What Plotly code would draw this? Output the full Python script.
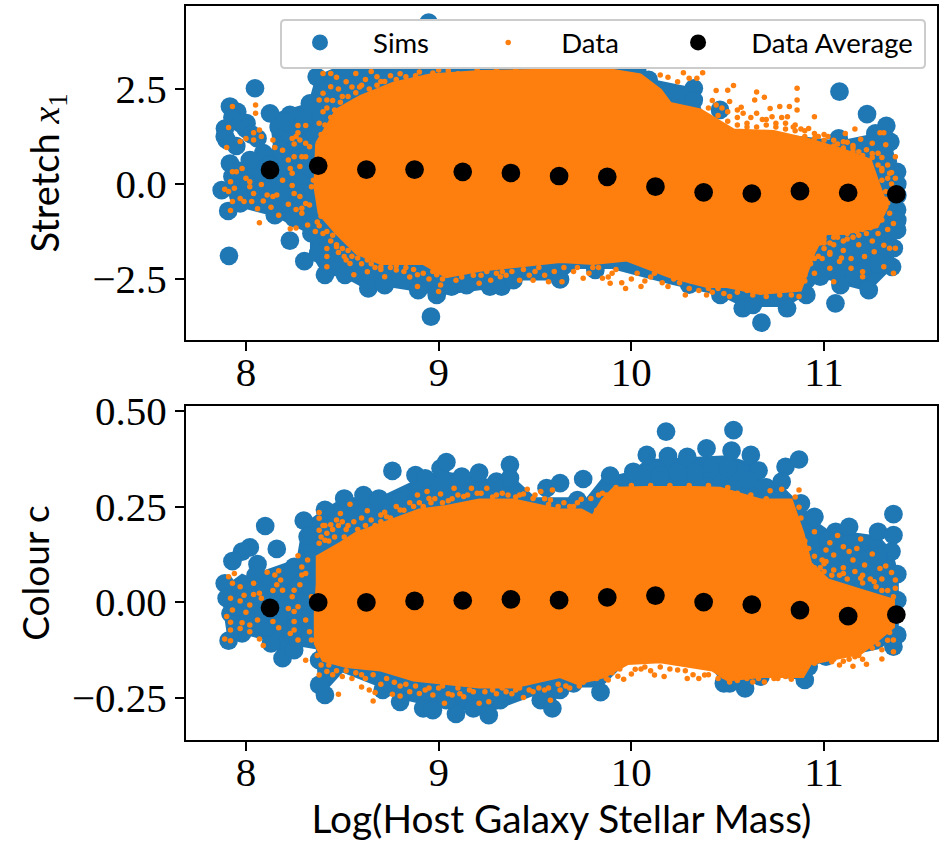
import plotly.graph_objects as go

# ---------- shared
avg_x = [8.125, 8.375, 8.625, 8.875, 9.125, 9.375, 9.625, 9.875, 10.125, 10.375, 10.625, 10.875, 11.125, 11.375]
x_ticks = [8, 9, 10, 11]
x_label = "Log(Host Galaxy Stellar Mass)"

# ---------- upper panel: stretch
stretch_avg = [.37, .48, .38, .38, .32, .29, .21, .19, -.07, -.22, -.25, -.19, -.23, -.27]
stretch_ticks = [-2.5, 0, 2.5]

sims_x1_x = [8.047, 7.917, 7.955, 7.891, 8.003, 7.90, 7.917, 7.874, 7.908, 7.912, 8.125, 8.228, 8.332, 8.367,
             8.09, 8.02, 7.97, 8.15, 8.09, 8.00, 8.228, 8.303, 8.34, 8.375, 8.41, 8.514, 8.635, 8.72, 8.894, 8.99,
             8.96, 9.067, 9.145, 9.266, 9.327, 9.388, 9.63, 8.948, 8.18, 8.27, 8.18, 8.27, 8.33, 8.33, 8.23, 8.05, 8.12,
             7.95, 8.25, 7.96, 8.06, 8.30, 8.5, 8.7, 8.95, 9.15, 9.3, 9.5, 9.7, 9.81, 10.03, 10.09,
             7.93, 7.97, 8.0, 8.03, 7.89, 7.93, 7.96, 8.17, 8.22, 8.3, 8.2,
             11.08, 11.223, 11.323, 11.344, 11.266, 11.076, 11.379, 11.379, 11.379, 11.362, 11.353, 11.232, 11.059, 11.085,
             10.98, 10.908, 10.808, 10.675, 10.578, 10.631, 10.462, 10.324, 10.324, 10.46, 9.813, 11.28, 11.28, 11.2, 11.11, 11.28, 11.16, 11.02, 11.2,
             10.3, 10.5, 8.6, 9.0, 10.75, 11.38, 11.38, 11.38, 11.3, 11.33]
sims_x1_y = [2.52, 2.04, 1.90, 1.46, 1.60, 1.16, .54, -.16, -.71, -1.89, 1.86, 1.82, 2.12, 2.82,
             .81, .63, -.51, -.82, -.42, .02, -1.49, -2.03, -1.30, -1.82, -2.39, -2.39, -2.75, -2.66, -2.79, -2.92,
             -3.49, -2.70, -2.66, -2.70, -2.70, -2.53, -2.51, 4.25, .9, 1.15, .02, -.42, .45, -.6, 1.3, -.1, .5,
             1.0, -.9, -.3, 1.2, 1.6, 3.1, 3.2, 3.2, 3.2, 3.2, 3.2, 3.1, 3.0, 3.0, 2.74,
             1.75, 1.6, 1.45, 1.3, 1.25, .2, .35, 1.5, 1.6, 1.7, 1.65,
             2.43, 1.84, 1.53, 1.11, 1.33, 1.20, .32, -.68, -1.21, -1.69, -2.18, -2.79, -3.14, -2.66,
             -2.44, -2.92, -3.27, -3.65, -3.27, -3.18, -2.92, 2.52, 2.21, 1.95, -2.26, -.4, -1.3, -1.75, -2.0, -2.1, -2.4, -2.2, -2.3,
             -2.65, -2.75, 2.9, 3.0, -2.6, 0.0, -0.3, -0.95, .8, .6]

# dense body of the simulations, outline
sims_body_x1_x = [8.13, 8.33, 8.37, 8.5, 10.03, 10.09, 10.32, 10.36, 10.5, 10.74, 11.08, 11.27, 11.34, 11.38, 11.38, 11.36, 11.35,
                  11.23, 11.085, 10.98, 10.9, 10.8, 10.58, 10.46, 10.2, 9.9, 9.7, 9.63, 9.39, 9.3, 9.0, 8.9, 8.72, 8.63,
                  8.5, 8.41, 8.34, 8.34, 8.15, 7.95, 7.9, 8.0, 8.15, 8.13]
sims_body_x1_y = [1.8, 2.1, 2.82, 3.1, 3.0, 2.74, 2.5, 1.9, 1.35, 1.3, 1.1, 1.3, 1.1, .3, -1.2, -1.7, -2.18,
                  -2.79, -2.6, -2.4, -2.9, -3.2, -3.2, -2.9, -2.6, -2.2, -2.2, -2.5, -2.5, -2.7, -2.9, -2.8, -2.66, -2.75,
                  -2.39, -2.39, -1.8, -1.3, -.82, -.55, -.1, .5, .9, 1.8]

body_x1_x = [8.367, 8.471, 8.592, 8.765, 8.955, 9.215, 9.63, 9.891, 10.047, 10.151, 10.202, 10.358, 10.531, 10.739,
             10.929, 11.102, 11.24, 11.275, 11.327, 11.275, 11.102, 10.999, 10.947, 10.877, 10.669, 10.496, 10.392,
             10.202, 9.976, 9.803, 9.631, 9.388, 9.215, 9.04, 8.92, 8.70, 8.574, 8.471, 8.38, 8.358, 8.367]
body_x1_y = [1.07, 1.95, 2.30, 2.65, 2.87, 2.96, 3.0, 3.0, 2.87, 2.47, 2.12, 1.95, 1.42, 1.38,
             1.16, .89, .63, .11, -.60, -1.12, -1.30, -1.30, -1.82, -2.79, -2.88, -2.70, -2.70,
             -2.44, -2.0, -2.09, -2.04, -2.18, -2.27, -2.44, -2.09, -2.09, -1.82, -1.30, -.77, -.07, 1.07]

data_x1_x = [7.93, 8.05, 8.05, 7.91, 8.07, 8.04, 8.0, 7.97, 8.04, 7.90, 8.08, 8.14, 8.15, 8.19, 8.27, 8.31, 8.27, 8.26, 8.24, 8.25,
             8.28, 8.31, 8.33, 8.25, 8.22, 8.23, 8.24, 8.29, 8.31, 8.28, 7.93, 7.95, 7.92, 7.98, 8.0, 8.02, 8.02, 7.94, 7.89, 7.91,
             8.08, 7.93, 7.92, 7.97, 7.99, 8.03, 8.04, 8.09, 8.11, 8.14, 8.16, 8.06, 8.13, 8.17, 8.07, 8.19, 8.24, 8.25, 8.28, 8.31,
             8.33, 8.22, 8.26, 8.29, 8.29, 8.32, 8.23, 8.26, 8.36, 8.34, 8.35,
             8.40, 8.44, 8.47, 8.52, 8.57, 8.65, 8.68, 8.40, 8.44, 8.38, 8.42, 8.42, 8.42, 8.47, 8.51, 8.54, 8.56, 8.63, 8.70, 8.72,
             8.78, 8.89, 8.89, 9.0, 9.01, 8.99, 9.09, 9.21, 9.27, 9.32, 9.42, 9.49, 9.57, 9.6,
             8.38, 8.4, 8.42, 8.45, 8.5, 8.48, 8.55, 8.6, 8.62, 8.7, 8.75, 8.8, 8.9, 9.0,
             8.37, 8.4, 8.44, 8.42, 8.48, 8.55, 8.52, 8.6, 8.67, 8.75, 8.82, 8.85, 8.95, 9.05, 9.12, 9.18, 9.3, 9.35, 9.5, 9.55,
             9.7, 9.8, 9.9, 10.0, 10.1, 10.22, 10.3, 10.35, 10.42, 10.55, 10.6,
             10.15, 10.19, 10.24, 10.27, 10.37, 10.34, 10.3, 10.44, 10.50, 10.53, 10.51, 10.44, 10.65, 10.69, 10.64, 10.86, 10.86,
             10.57, 10.58, 10.65, 10.72, 10.77, 10.82, 10.86, 10.81, 10.73, 10.95, 10.92, 10.95, 11.16, 11.11, 11.1, 11.15, 11.19,
             11.29, 11.31, 11.32, 11.25, 11.28, 11.37, 11.30, 11.34, 11.37, 11.36, 11.34, 11.29, 11.36, 11.31, 11.34, 11.37, 11.26,
             11.21, 11.14, 11.08, 11.03, 11.05, 11.20, 11.2, 11.31, 11.36, 11.14, 10.99, 10.95, 10.95, 10.89, 10.87, 10.83, 10.77,
             10.70, 10.63, 10.51, 10.48, 10.39, 10.28, 10.19, 10.05, 9.97, 9.89, 9.85, 9.75, 9.64,
             10.5, 10.55, 10.6, 10.7, 10.78, 10.85, 10.9, 11.0, 11.05, 11.15, 11.25, 11.3, 11.33, 11.35, 11.3, 11.32, 11.33, 11.3,
             11.25, 11.2, 11.28, 11.33, 11.15, 11.1, 11.05, 11.0, 10.95, 11.1, 11.18, 11.25, 11.0, 10.92, 10.9, 10.9, 10.85, 11.22,
             10.42, 10.47, 10.55, 10.62, 10.68, 10.75, 10.8, 10.84, 10.88, 10.97, 11.02, 11.07, 11.12, 11.18, 11.22,
             10.96, 11.0, 11.03, 11.07, 11.12, 11.17, 11.03, 10.98, 11.09,
             8.39, 8.41, 8.44, 8.46, 8.49, 8.53, 8.57, 8.59, 8.64, 8.68, 8.72, 8.78, 8.83, 8.88, 8.93, 8.97, 9.05, 9.1, 9.2, 9.3, 9.4, 9.5,
             8.38, 8.39, 8.42, 8.45, 8.47, 8.5, 8.53, 8.58, 8.63, 8.65, 8.7, 8.73, 8.78, 8.83, 8.87, 8.92, 8.97, 9.02, 9.07, 9.14, 9.22, 9.25,
             9.33, 9.38, 9.44, 9.47, 9.52, 9.6, 9.65, 9.72, 9.78, 9.83, 9.88, 9.92, 9.95, 10.03, 10.07, 10.12, 10.16, 10.25, 10.31, 10.4, 10.45,
             10.4, 10.45, 10.5, 10.55, 10.6, 10.65, 10.7, 10.75, 10.8, 10.85, 10.9, 10.95, 11.0, 11.05, 11.1, 11.15, 11.2, 11.25, 11.28, 11.3,
             11.33, 11.35, 11.32, 11.3, 11.28, 11.3, 11.24, 11.18, 11.12, 11.05, 11.0, 10.97, 10.93, 10.9, 11.03]
data_x1_y = [2.04, 2.08, 1.86, 1.49, 1.42, 1.35, 1.2, 1.12, 1.16, .96, 1.25, 1.16, .96, .89, 1.54, 1.54, 1.35, 1.25, 1.2, 1.05,
             1.16, 1.07, .98, .72, .63, .41, .28, .72, .72, .46, .32, .32, .06, .41, .15, .06, -.07, -.11, -.14, -.2,
             -.01, -.46, -.7, -.38, -.46, -.46, -.25, -.45, -.29, -.33, -.29, -.65, -.61, -.82, -1.02, .1, -.04, -.25, -.33, -.51,
             -.55, -.53, -.67, -.64, -.77, -1.08, -1.18, -1.16, -1.25, -.07, .1,
             2.91, 2.91, 2.81, 2.69, 2.91, 2.96, 2.82, 2.39, 2.56, 2.21, 2.21, -1.91, -2.18, -1.65, -1.91, -2.09, -2.39, -2.31, -2.18, -2.44,
             -2.26, -2.7, -2.39, -2.83, -2.66, -2.39, -2.53, -2.61, -2.53, -2.44, -2.53, -2.53, -2.57, 2.87,
             1.6, 1.9, 2.0, 2.2, 2.3, 2.5, 2.55, 2.6, 2.75, 2.7, 2.85, 2.9, 2.95, 3.0,
             -1.0, -1.3, -1.5, -1.7, -1.8, -1.9, -2.0, -2.1, -2.2, -2.2, -2.3, -2.45, -2.5, -2.35, -2.45, -2.4, -2.35, -2.4, -2.3, -2.4,
             -2.3, -2.2, -2.35, -2.5, -2.45, -2.5, -2.75, -2.8, -2.85, -2.85, -2.8,
             2.87, 2.81, 2.69, 2.93, 2.93, 2.78, 2.78, 2.46, 2.47, 2.59, 2.17, 2.08, 2.42, 2.28, 2.21, 2.52, 2.21,
             2.02, 1.86, 1.86, 1.99, 2.04, 2.04, 1.95, 1.77, 1.77, 1.77, 1.46, 1.33, 1.45, 1.33, 1.11, 1.01, 1.18,
             1.35, 1.35, 1.03, 1.07, .81, .72, .41, .28, .15, -.33, -.77, -.95, -1.04, -1.61, -1.69, -1.69, -1.78,
             -1.91, -1.96, -2.04, -2.22, -2.57, -2.31, -2.44, -2.18, -2.35, -2.22, -1.96, -1.96, -2.35, -2.53, -2.96, -2.92, -2.92,
             -2.96, -2.92, -2.96, -2.88, -2.92, -2.92, -2.7, -2.7, -2.75, -2.61, -2.48, -2.48, -2.57,
             1.9, 1.75, 1.6, 1.7, 1.75, 1.55, 1.4, 1.3, 1.15, .95, .8, .7, .5, .3, .1, -.2, -.5, -.7,
             -1.0, -1.2, -1.3, -1.2, -1.4, -1.5, -1.6, -1.7, -1.7, -1.75, -1.6, -1.5, -1.45, -2.0, -2.2, -2.4, -2.7, -1.3,
             2.2, 2.0, 1.95, 1.75, 1.7, 1.6, 1.6, 1.5, 1.45, 1.25, 1.25, 1.05, 1.1, .85, .9,
             -1.4, -1.35, -1.55, -1.4, -1.3, -1.25, -1.85, -1.55, -1.95,
             1.3, 1.55, 1.75, 1.95, 2.15, 2.3, 2.4, 2.55, 2.5, 2.6, 2.7, 2.75, 2.82, 2.85, 2.8, 2.92, 2.98, 2.9, 3.0, 3.0, 3.0, 2.98,
             -1.1, -.85, -1.25, -1.35, -1.6, -1.7, -1.75, -1.95, -2.0, -2.1, -2.25, -2.05, -2.15, -2.2, -2.25, -2.35, -2.3, -2.5, -2.35, -2.3, -2.4, -2.3,
             -2.3, -2.3, -2.25, -2.4, -2.2, -2.3, -2.2, -2.2, -2.35, -2.2, -2.45, -2.25, -2.6, -2.35, -2.55, -2.35, -2.6, -2.6, -2.55, -2.75, -2.75,
             2.0, 1.8, 1.65, 1.55, 1.5, 1.5, 1.55, 1.5, 1.45, 1.4, 1.25, 1.2, 1.15, 1.0, .95, .85, .75, .7, .5, .35,
             .15, 0, -.4, -.45, -.6, -.95, -1.15, -1.35, -1.45, -1.4, -1.55, -1.9, -2.1, -2.55, -1.8]

# ---------- lower panel: colour
colour_avg = [-.015, -.001, -.001, .003, .004, .007, .005, .012, .017, 0, -.007, -.021, -.037, -.033]
colour_ticks = [-0.25, 0, 0.25, 0.5]

sims_c_x = [8.10, 8.02, 7.98, 7.93, 8.16, 8.06, 7.89, 7.90, 7.92, 7.91, 7.98, 8.13, 8.19, 8.25, 8.25, 8.30, 8.32, 8.41, 8.51, 8.61,
            8.69, 8.76, 8.80, 8.88, 8.93, 9.01, 9.04, 9.12, 9.21, 9.30, 9.37, 9.37, 9.56, 9.63,
            8.00, 8.09, 8.17, 8.09, 8.31, 8.17, 8.26, 7.95, 8.38, 8.38, 8.41, 8.80, 8.92, 8.97, 9.09, 9.18, 9.26, 9.32, 9.53, 9.59, 8.71, 9.04,
            8.33, 8.05, 8.2,
            9.75, 9.72, 9.63, 9.70, 9.84, 9.89, 10.01, 10.08, 10.18, 10.19, 10.29, 10.39, 10.52, 10.53, 10.62, 10.66, 10.80, 10.87, 10.78,
            10.88, 10.95, 11.06, 11.13, 11.28, 11.36, 11.36, 11.35, 11.38, 11.38, 11.38, 10.15, 10.41, 10.24, 10.50, 10.33, 10.95, 11.02,
            11.19, 11.28, 10.90, 10.92, 10.59, 10.51, 10.48, 10.67, 11.01, 11.36, 10.6, 10.7, 11.1]
sims_c_y = [.199, .143, .132, .107, .139, .099, .049, .01, -.03, -.101, -.082, -.108, -.147, -.126, .092, .213, .171, .241, .271, .28,
            .271, .343, .263, .332, .324, .35, .366, .328, .339, .315, .359, .324, .298, .311,
            .03, .049, -.038, -.03, .005, .04, -.065, -.012, -.152, -.217, -.243, -.261, -.278, -.283, -.293, -.278, -.296, -.257, -.257, -.278, -.23, -.257,
            .11, .07, .07,
            .322, .267, -.23, -.213, -.236, .331, .341, .385, .446, .382, .38, .402, .396, .45, .385, .344, .354, .373, .315,
            .258, .223, .184, .197, .184, .175, .23, .132, .073, .005, -.086, .33, .35, .34, .35, .34, .162, .162,
            .154, .119, -.204, -.169, -.226, -.213, -.213, -.195, -.143, -.117, .32, .3, .13]

sims_body_c_x = [7.9, 7.98, 8.07, 8.1, 8.27, 8.3, 8.41, 8.51, 8.69, 8.9, 9.01, 9.3, 9.37, 9.5, 9.7, 9.74, 9.85, 10.01, 10.08, 10.5,
                 10.62, 10.66, 10.78, 10.88, 10.95, 11.06, 11.13, 11.28, 11.35, 11.38, 11.38, 11.28, 11.0, 10.92, 10.90, 10.67, 10.59,
                 10.48, 10.42, 10.2, 9.98, 9.84, 9.63, 9.59, 9.5, 9.26, 8.97, 8.8, 8.7, 8.5, 8.41, 8.38, 8.37, 8.25, 8.19, 8.13, 7.98,
                 7.91, 7.89, 7.9]
sims_body_c_y = [.04, .07, .05, .08, .11, .2, .24, .27, .27, .32, .34, .315, .33, .27, .27, .25, .32, .34, .37, .38,
                 .36, .32, .30, .25, .21, .17, .18, .17, .13, .07, -.09, -.12, -.15, -.17, -.2, -.19, -.22,
                 -.21, -.17, -.15, -.15, -.22, -.22, -.27, -.24, -.285, -.27, -.25, -.22, -.18, -.23, -.2, -.12, -.11, -.14, -.1, -.08,
                 -.09, -.02, .04]

body_c_x = [8.37, 8.37, 8.49, 8.57, 8.76, 8.90, 9.04, 9.21, 9.39, 9.63, 9.74, 9.80, 9.85, 9.91, 10.08, 10.32, 10.46, 10.67, 10.83,
            10.89, 10.93, 11.02, 11.19, 11.36, 11.36, 11.28, 11.19, 11.10, 10.93, 10.89, 10.67, 10.50, 10.42, 10.15, 9.98, 9.86, 9.72,
            9.63, 9.39, 9.21, 9.04, 8.87, 8.70, 8.52, 8.40, 8.36, 8.36, 8.37]
body_c_y = [.049, .119, .154, .18, .215, .241, .25, .267, .267, .241, .241, .225, .267, .298, .3, .3, .298, .267, .267,
            .18, .101, .058, .031, .005, -.065, -.099, -.134, -.143, -.161, -.195, -.195, -.204, -.178, -.156, -.161, -.195, -.213,
            -.195, -.222, -.222, -.213, -.204, -.178, -.169, -.152, -.108, -.03, .049]

data_c_x = [7.91, 7.94, 7.93, 7.97, 7.92, 7.99, 7.97, 8.04, 8.07, 8.04, 8.08, 8.02, 7.93, 8.0, 7.9, 7.92, 7.98, 8.06, 8.02, 7.97,
            8.02, 7.92, 7.89, 7.92, 8.07, 8.09, 8.11, 8.15, 8.17, 8.18, 8.16, 8.14, 8.19, 8.27, 8.29, 8.32, 8.31, 8.29, 8.28, 8.25,
            8.24, 8.34, 8.22, 8.25, 8.27, 8.25, 8.31, 8.14, 8.17, 8.23, 8.25, 8.27, 8.33, 8.34, 8.31,
            8.38, 8.38, 8.49, 8.54, 8.44, 8.47, 8.38, 8.38, 8.41, 8.63, 8.70, 8.73, 8.80, 8.89, 8.94, 8.95, 9.01, 9.08, 9.17, 9.25,
            9.13, 9.46, 9.44, 9.53, 9.59, 9.58, 9.49,
            8.4, 8.42, 8.45, 8.5, 8.52, 8.56, 8.6, 8.65, 8.72, 8.78, 8.85, 8.9, 8.98, 9.05, 9.1, 9.2, 9.3, 9.36, 9.4, 9.55, 9.65, 9.7, 9.76,
            9.85, 9.92, 10.0, 10.1, 10.2, 10.3, 10.4, 10.5, 10.55, 10.62, 10.7, 10.85, 10.88, 10.9, 10.95, 11.0, 11.1, 11.2, 11.3, 11.33,
            8.38, 8.42, 8.48, 8.60, 8.64, 8.67, 8.66, 8.76, 8.80, 8.90, 8.97, 9.03, 9.07, 9.13, 9.21, 9.26, 9.44, 9.49, 9.58, 9.63,
            8.45, 8.5, 8.55, 8.62, 8.7, 8.8, 8.85, 8.93, 9.0, 9.1, 9.18, 9.3, 9.35, 9.4, 9.55, 9.68, 9.8, 9.9, 10.05, 10.1, 10.2, 10.28,
            10.45, 10.55, 10.8, 10.87, 10.95, 11.0, 11.1, 11.2, 11.3, 11.33, 11.34,
            9.79, 9.83, 9.74, 10.72, 10.78, 10.87, 10.87, 10.95, 11.07, 11.19, 11.03, 11.1, 11.01, 11.05, 11.13, 11.17, 11.25, 10.99,
            11.01, 11.15, 11.21, 11.29, 11.32, 11.35, 11.37, 11.37, 11.36, 11.26, 11.19, 11.05, 11.10,
            11.36, 11.36, 11.30, 11.22, 11.15, 11.08, 11.04, 11.16, 9.93, 9.96, 10.0, 10.02, 10.12, 10.17, 10.24, 10.29, 10.35, 10.38,
            10.51, 10.63, 10.69, 10.74, 10.83, 9.88, 9.73,
            8.39, 8.41, 8.43, 8.46, 8.48, 8.51, 8.53, 8.58, 8.62, 8.67, 8.7, 8.75, 8.82, 8.87, 8.92, 8.96, 9.02, 9.07, 9.15, 9.22, 9.28, 9.33,
            9.42, 9.5, 9.57, 9.62, 9.68, 9.72, 9.78, 9.82, 9.87,
            11.0, 11.04, 11.08, 11.12, 11.16, 11.2, 11.24, 11.27, 11.3, 10.92, 10.95, 10.98,
            8.37, 8.39, 8.43, 8.47, 8.52, 8.57, 8.6, 8.66, 8.73, 8.77, 8.83, 8.88, 8.95, 9.02, 9.05, 9.11, 9.16, 9.24, 9.28, 9.33, 9.38, 9.42,
            9.47, 9.52, 9.57, 9.62, 9.66, 9.75, 9.82, 9.87, 9.94, 10.07, 10.15, 10.32, 10.4, 10.48, 10.6, 10.66, 10.76, 11.05, 11.13, 11.18, 11.25, 11.28]
data_c_y = [.066, .075, .049, .04, .01, .018, .003, .049, .023, .02, .01, -.008, -.021, -.027, -.038, -.053, -.054, -.047, -.06, -.069,
            -.078, -.073, -.097, -.101, -.097, -.114, .078, .071, .082, .058, .045, .03, .031, .121, .092, .11, .075, .071, .045, .031,
            .014, .014, -.017, -.025, -.012, -.051, -.047, -.051, -.067, -.082, -.073, -.099, -.078, -.099, -.152,
            .234, .219, .232, .256, .202, .215, .188, .154, .162, .239, .228, .223, .241, .28, .289, .271, .283, .298, .298, .298,
            .276, .295, .283, .289, .293, .267, .271,
            .2, .18, .19, .21, .19, .21, .22, .215, .235, .25, .26, .26, .27, .265, .28, .285, .28, .28, .275, .27, .26, .25, .23,
            .285, .3, .305, .305, .305, .305, .305, .3, .285, .28, .27, .275, .22, .16, .12, .08, .09, .05, .06, .03,
            -.191, -.182, -.241, -.222, -.23, -.237, -.259, -.241, -.246, -.239, -.243, -.265, -.243, -.248, -.265, -.261, -.25, -.235, -.257, -.23,
            -.19, -.195, -.2, -.2, -.215, -.22, -.235, -.23, -.225, -.225, -.235, -.24, -.235, -.23, -.23, -.225, -.2, -.185, -.175, -.18, -.175, -.18,
            -.2, -.205, -.195, -.19, -.16, -.15, -.155, -.15, -.125, -.1, -.08,
            .271, .28, .269, .291, .295, .293, .248, .184, .174, .165, .155, .145, .136, .123, .132, .14, .126, .11,
            .106, .11, .097, .088, .094, .077, .058, .036, .014, .053, .062, .084, .075,
            -.099, -.13, -.149, -.163, -.168, -.165, -.156, -.143, -.194, -.202, -.188, -.176, -.191, -.195, -.178, -.2, -.2, -.191,
            -.209, -.209, -.209, -.2, -.202, -.204, -.22,
            .17, .2, .16, .17, .2, .17, .2, .19, .2, .2, .21, .22, .24, .25, .25, .26, .26, .27, .28, .285, .275, .285,
            .28, .28, .255, .25, .25, .26, .225, .24, .28,
            .1, .07, .07, .06, .08, .07, .06, .04, .03, .14, .09, .09,
            -.14, -.165, -.165, -.18, -.18, -.185, -.19, -.19, -.2, -.21, -.215, -.22, -.225, -.22, -.24, -.24, -.23, -.235, -.23, -.225, -.24, -.225,
            -.23, -.225, -.225, -.215, -.22, -.21, -.2, -.2, -.175, -.17, -.17, -.19, -.19, -.195, -.2, -.2, -.2, -.15, -.15, -.14, -.12, -.11]

BLUE = "#1f77b4"
ORANGE = "#ff7f0e"
BIG = 18.7
SMALL = 5.5
NB = "\u00a0"

fig = go.Figure()


def add_panel(row, sx, sy, sbx, sby, bx, by, dx, dy, ay, legend):
    xa, ya = ("x", "y") if row == 1 else ("x2", "y2")
    fig.add_trace(go.Scatter(x=sbx, y=sby, mode="lines", fill="toself", fillcolor=BLUE, xaxis=xa, yaxis=ya,
                             line=dict(color=BLUE, width=3), showlegend=False, hoverinfo="skip"))
    fig.add_trace(go.Scatter(x=sx, y=sy, mode="markers", name=NB * 2 + "Sims" + NB * 5, xaxis=xa, yaxis=ya, showlegend=legend,
                             marker=dict(color=BLUE, size=BIG, line=dict(width=0))))
    fig.add_trace(go.Scatter(x=bx, y=by, mode="lines", fill="toself", fillcolor=ORANGE, xaxis=xa, yaxis=ya,
                             line=dict(color=ORANGE, width=3), showlegend=False, hoverinfo="skip"))
    fig.add_trace(go.Scatter(x=dx, y=dy, mode="markers", name=NB * 2 + "Data" + NB * 5, xaxis=xa, yaxis=ya, showlegend=legend,
                             marker=dict(color=ORANGE, size=SMALL, line=dict(width=0))))
    fig.add_trace(go.Scatter(x=avg_x, y=ay, mode="markers", name=NB * 2 + "Data Average", xaxis=xa, yaxis=ya, showlegend=legend,
                             marker=dict(color="black", size=BIG, line=dict(width=0))))


add_panel(1, sims_x1_x, sims_x1_y, sims_body_x1_x, sims_body_x1_y, body_x1_x, body_x1_y, data_x1_x, data_x1_y, stretch_avg, True)
add_panel(2, sims_c_x, sims_c_y, sims_body_c_x, sims_body_c_y, body_c_x, body_c_y, data_c_x, data_c_y, colour_avg, False)

W, H = 939, 843
SERIF = "Liberation Serif, serif"
SANS = "Lato, sans-serif"
axis_common = dict(showgrid=False, zeroline=False, showline=True, mirror=True, linecolor="black", linewidth=2,
                   ticks="outside", ticklen=9, tickwidth=2, tickcolor="black",
                   tickfont=dict(family=SERIF, size=41, color="black"))
xr = [7.689, 11.586]
fig.update_layout(
    width=W, height=H, autosize=False, paper_bgcolor="white", plot_bgcolor="white",
    margin=dict(l=0, r=0, t=0, b=0, autoexpand=False), showlegend=True,
    xaxis=dict(domain=[186 / W, 937 / W], range=xr, tickvals=x_ticks, anchor="y", ticklabelstandoff=-14, **axis_common),
    yaxis=dict(domain=[1 - 340 / H, 1 - 6 / H], range=[-4.105, 4.684], tickvals=stretch_ticks, tickformat=".1f", anchor="x",
               title=dict(text='Stretch <span style="font-family:Liberation Serif"><i>x</i><sub>1</sub></span>',
                          font=dict(family=SANS, size=38, color="black"), standoff=21),
               **axis_common),
    xaxis2=dict(domain=[186 / W, 937 / W], range=xr, tickvals=x_ticks, anchor="y2", ticklabelstandoff=-14,
                title=dict(text=x_label, font=dict(family=SANS, size=38.8, color="black"), standoff=9), **axis_common),
    yaxis2=dict(domain=[1 - 740 / H, 1 - 406 / H], range=[-.361, .513], tickvals=colour_ticks, tickformat=".2f", anchor="x2",
                title=dict(text="Colour c", font=dict(family=SANS, size=37, color="black"), standoff=11),
                **axis_common),
    legend=dict(orientation="h", x=281 / W, xanchor="left", y=1 - 18 / H, yanchor="top", bgcolor="rgba(0,0,0,0)",
                borderwidth=0, itemwidth=68, itemsizing="trace",
                font=dict(family=SANS, size=27.5, color="black")),
    shapes=[dict(type="path", xref="paper", yref="paper", layer="above",
                 path=(f"M {285/W} {1-20/H} L {921/W} {1-20/H} Q {925/W} {1-20/H} {925/W} {1-24/H} "
                       f"L {925/W} {1-64/H} Q {925/W} {1-68/H} {921/W} {1-68/H} L {285/W} {1-68/H} "
                       f"Q {281/W} {1-68/H} {281/W} {1-64/H} L {281/W} {1-24/H} Q {281/W} {1-20/H} {285/W} {1-20/H} Z"),
                 line=dict(color="#cccccc", width=2), fillcolor="white")],
)
fig.write_html("out.html", config={"displayModeBar": False}, post_script="document.body.style.margin='0';")
